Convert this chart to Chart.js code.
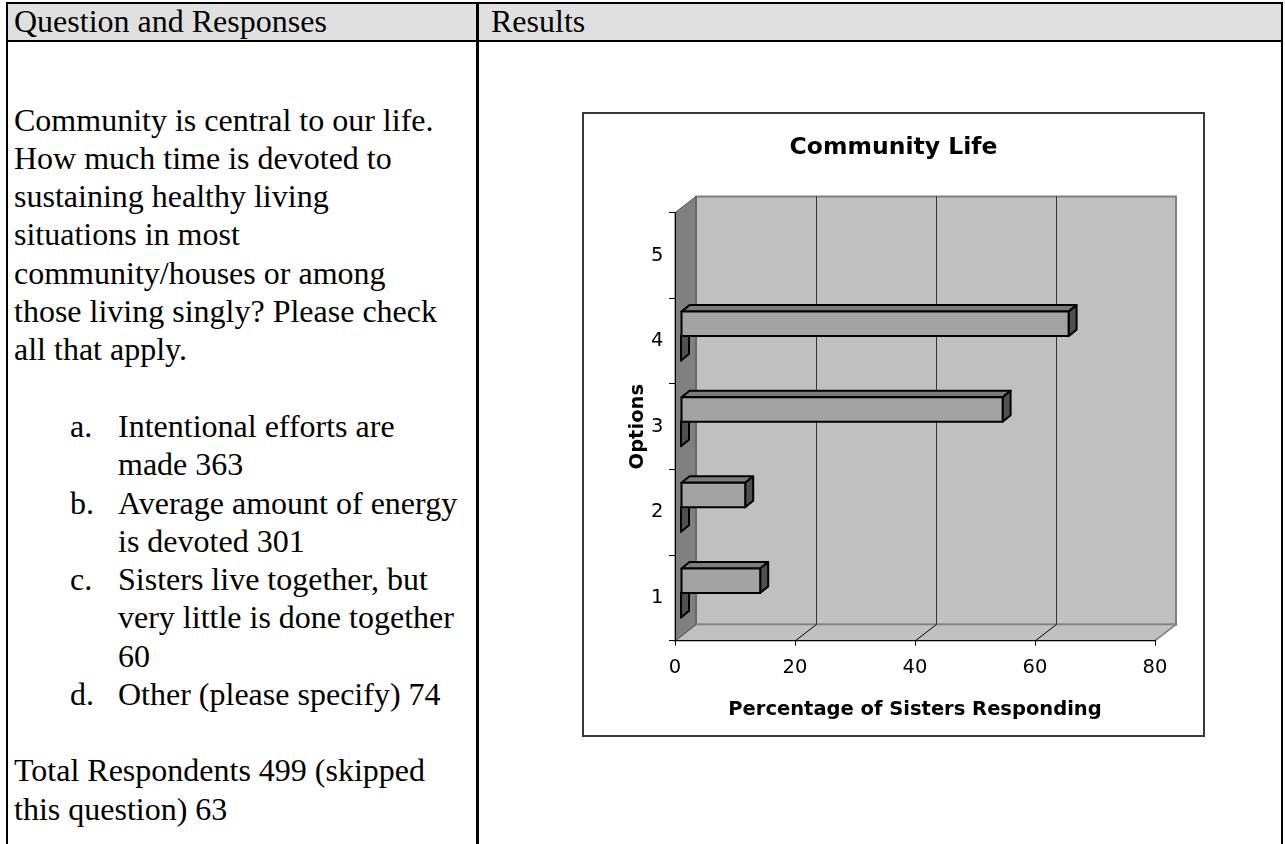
<!DOCTYPE html>
<html>
<head>
<meta charset="utf-8">
<script src="https://cdn.jsdelivr.net/npm/chart.js@4.4.1/dist/chart.umd.min.js"></script>
<style>
    body { margin: 0; background: #fff; }
    #page { position: relative; width: 1285px; height: 844px; overflow: hidden;
            font-family: "Liberation Serif", "Times New Roman", serif; font-size: 32px; color: #000; }
    #frame { position: absolute; left: 6px; top: 2px; width: 1277px; height: 900px;
             border: 2px solid #000; border-bottom: none; box-sizing: border-box; }
    #head { position: absolute; left: 8px; top: 4px; width: 1273px; height: 35.5px;
            background: #e0e0e0; border-bottom: 2px solid #000; }
    #divider { position: absolute; left: 476px; top: 4px; width: 2.5px; height: 900px; background: #000; }
    .cell { position: absolute; line-height: 38.3px; white-space: nowrap; }
    .line { height: 38.3px; position: relative; }
    .mark { position: absolute; left: 0; }
    .item { position: absolute; left: 48px; }
    #chartBox { position: absolute; left: 582px; top: 112px; width: 623px; height: 625px;
                border: 2px solid #3a3a3a; box-sizing: border-box; }
    #chartWrap { position: absolute; left: 584px; top: 114px; width: 619px; height: 621px; }
</style>
</head>
<body>
<div id="page">
    <div id="head"></div>
    <div id="frame"></div>
    <div id="divider"></div>

    <div class="cell" style="left:14px; top:1.6px;">Question and Responses</div>
    <div class="cell" style="left:491px; top:1.6px;">Results</div>

    <div class="cell" style="left:14px; top:100.6px;">
        <div class="line">Community is central to our life.</div>
        <div class="line">How much time is devoted to</div>
        <div class="line">sustaining healthy living</div>
        <div class="line">situations in most</div>
        <div class="line">community/houses or among</div>
        <div class="line">those living singly? Please check</div>
        <div class="line">all that apply.</div>
        <div class="line"></div>
    </div>
    <div class="cell" style="left:70px; top:407.0px;">
        <div class="line"><span class="mark">a.</span><span class="item">Intentional efforts are</span></div>
        <div class="line"><span class="item">made 363</span></div>
        <div class="line"><span class="mark">b.</span><span class="item">Average amount of energy</span></div>
        <div class="line"><span class="item">is devoted 301</span></div>
        <div class="line"><span class="mark">c.</span><span class="item">Sisters live together, but</span></div>
        <div class="line"><span class="item">very little is done together</span></div>
        <div class="line"><span class="item">60</span></div>
        <div class="line"><span class="mark">d.</span><span class="item">Other (please specify) 74</span></div>
    </div>
    <div class="cell" style="left:14px; top:751.4px;">
        <div class="line">Total Respondents 499 (skipped</div>
        <div class="line">this question) 63</div>
    </div>

    <div id="chartBox"></div>
    <div id="chartWrap"><canvas id="lifeChart"></canvas></div>
</div>

<script>
// data
const categories = ["1", "2", "3", "4", "5"];
const percentResponding = [13.2, 10.7, 53.6, 64.6, null];
const emptySeries = [0, 0, 0, 0, null];
const xTicks = [0, 20, 40, 60, 80];

const chartFont = "'DejaVu Sans', Verdana, sans-serif";

// 3d look: depth of the walls and of the bars
const wallDepth = { dx: 21, dy: -16.3 };
const barShift = { dx: 6, dy: -5 };
const barDepth = { dx: 8, dy: -6.5 };

function poly(ctx, pts, fill, stroke, width) {
    ctx.beginPath();
    ctx.moveTo(pts[0][0], pts[0][1]);
    for (let i = 1; i < pts.length; i++) ctx.lineTo(pts[i][0], pts[i][1]);
    ctx.closePath();
    if (fill) { ctx.fillStyle = fill; ctx.fill(); }
    if (stroke) { ctx.strokeStyle = stroke; ctx.lineWidth = width; ctx.stroke(); }
}

const walls3d = {
    id: "walls3d",

    beforeDraw(chart) {
        const { ctx, chartArea: a, scales: { x } } = chart;
        const x0 = x.getPixelForValue(xTicks[0]);
        const x1 = x.getPixelForValue(xTicks[xTicks.length - 1]);
        const dx = wallDepth.dx, dy = wallDepth.dy;
        const top = a.top, bot = a.bottom;

        ctx.save();
        ctx.lineJoin = "miter";

        // back wall
        poly(ctx, [[x0 + dx, top + dy], [x1 + dx, top + dy], [x1 + dx, bot + dy], [x0 + dx, bot + dy]],
            "#c0c0c0", "#808080", 2);

        // floor
        poly(ctx, [[x0, bot], [x1, bot], [x1 + dx, bot + dy], [x0 + dx, bot + dy]],
            "#c0c0c0", "#808080", 1.5);

        // left wall
        poly(ctx, [[x0, top], [x0 + dx, top + dy], [x0 + dx, bot + dy], [x0, bot]],
            "#808080", "#505050", 1);

        // grid lines on back wall and floor
        ctx.lineWidth = 1;
        xTicks.slice(1, -1).forEach(v => {
            const px = Math.round(x.getPixelForValue(v)) + 0.5;
            ctx.strokeStyle = "#333";
            ctx.beginPath();
            ctx.moveTo(px + dx, top + dy);
            ctx.lineTo(px + dx, bot + dy);
            ctx.stroke();
            ctx.strokeStyle = "#000";
            ctx.beginPath();
            ctx.moveTo(px, bot);
            ctx.lineTo(px + dx, bot + dy);
            ctx.stroke();
        });

        ctx.restore();
    },

    afterDatasetsDraw(chart) {
        const ctx = chart.ctx;
        ctx.save();
        ctx.lineJoin = "round";

        // empty series first so the real bars cover its top face
        [1, 0].forEach(di => {
            const values = chart.data.datasets[di].data;
            chart.getDatasetMeta(di).data.forEach((bar, i) => {
                if (values[i] === null) return;
                const p = bar.getProps(["x", "y", "base", "height"], true);
                const L = Math.min(p.base, p.x) + barShift.dx;
                const R = Math.max(p.base, p.x) + barShift.dx;
                const T = p.y - p.height / 2 + barShift.dy;
                const B = p.y + p.height / 2 + barShift.dy;
                const bx = barDepth.dx, by = barDepth.dy;

                poly(ctx, [[L, T], [R, T], [R + bx, T + by], [L + bx, T + by]], "#7c7c7c", "#000", 2);
                poly(ctx, [[R, T], [R + bx, T + by], [R + bx, B + by], [R, B]], "#505050", "#000", 2);
                poly(ctx, [[L, T], [R, T], [R, B], [L, B]], "#a3a3a3", "#000", 2);
            });
        });

        ctx.restore();
    }
};

const App = {

    chart: null,

    init() {
        const ctx = document.getElementById("lifeChart");

        this.chart = new Chart(ctx, {
            type: "bar",
            data: {
                labels: categories,
                datasets: [{
                    label: "Percentage",
                    data: percentResponding,
                    backgroundColor: "rgba(0,0,0,0)",
                    borderWidth: 0
                }, {
                    label: "Empty",
                    data: emptySeries,
                    backgroundColor: "rgba(0,0,0,0)",
                    borderWidth: 0
                }]
            },
            options: {
                indexAxis: "y",
                responsive: true,
                maintainAspectRatio: false,
                animation: false,
                events: [],
                categoryPercentage: 0.572,
                barPercentage: 1.0,
                layout: { padding: { top: 20, left: 0, right: 0, bottom: 0 } },
                plugins: {
                    legend: { display: false },
                    tooltip: { enabled: false },
                    title: {
                        display: true,
                        text: "Community Life",
                        color: "#000",
                        font: { family: chartFont, size: 23.5, weight: "bold" },
                        padding: { top: 0, bottom: 50.5 }
                    }
                },
                scales: {
                    x: {
                        type: "linear",
                        min: xTicks[0],
                        max: xTicks[xTicks.length - 1],
                        ticks: {
                            stepSize: 20,
                            color: "#000",
                            padding: 10.5,
                            font: { family: chartFont, size: 19.5 }
                        },
                        grid: { drawOnChartArea: false, tickLength: 5, color: "#000" },
                        border: { color: "#000", width: 1 },
                        title: {
                            display: true,
                            text: "Percentage of Sisters Responding",
                            color: "#000",
                            font: { family: chartFont, size: 19.5, weight: "bold" },
                            padding: { top: 0, bottom: 13.6 }
                        },
                        afterFit(scale) { scale.height = 94.3; }
                    },
                    y: {
                        type: "category",
                        reverse: true,
                        ticks: {
                            color: "#000",
                            padding: 5.5,
                            font: { family: chartFont, size: 19.5 }
                        },
                        grid: { drawOnChartArea: false, offset: true, tickLength: 6, color: "#000" },
                        border: { color: "#000", width: 1 },
                        title: {
                            display: true,
                            text: "Options",
                            color: "#000",
                            font: { family: chartFont, size: 19.5, weight: "bold" },
                            padding: { top: 42.7, bottom: 0 }
                        },
                        afterFit(scale) { scale.width = 91; }
                    },
                    // empty strip on the right, keeps the title centred on the whole box
                    yRight: {
                        type: "category",
                        position: "right",
                        ticks: { display: false },
                        grid: { display: false },
                        border: { display: false },
                        afterFit(scale) { scale.width = 48; }
                    }
                }
            },
            plugins: [walls3d]
        });
    }
};

window.onload = () => App.init();
</script>
</body>
</html>
